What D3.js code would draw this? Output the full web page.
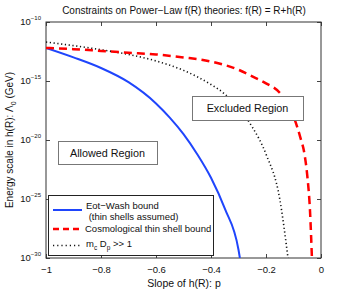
<!DOCTYPE html>
<html><head><meta charset="utf-8">
<script src="https://cdn.jsdelivr.net/npm/d3@7"></script>
<style>body{margin:0;background:#fff}svg{display:block;font-family:"Liberation Sans",Arial,sans-serif}</style>
</head><body><svg id="c" width="354" height="291"></svg>
<script>
// Data: slope p and log10 of energy scale (GeV)
const eotP   = [-1, -0.9, -0.8, -0.7, -0.6, -0.55, -0.5, -0.45, -0.4, -0.35, -0.3, -0.295];
const eotLog = [-12.2, -13.0, -13.9, -15.1, -16.9, -18.1, -19.5, -21.2, -23.2, -25.8, -29.3, -30];
const cosP   = [-1, -0.9, -0.8, -0.7, -0.6, -0.5, -0.4, -0.3, -0.25, -0.2, -0.15, -0.1, -0.075, -0.06, -0.05, -0.04, -0.033];
const cosLog = [-12.2, -12.3, -12.45, -12.6, -12.75, -13.0, -13.35, -14.05, -14.6, -15.2, -16.0, -18.0, -19.8, -21.2, -23.0, -26.0, -30];
const dotP   = [-1, -0.9, -0.8, -0.7, -0.6, -0.5, -0.4, -0.35, -0.3, -0.25, -0.2, -0.15, -0.12];
const dotLog = [-11.7, -12.0, -12.35, -12.75, -13.3, -14.1, -15.3, -16.1, -17.3, -18.9, -21.2, -25.0, -30];
const xTicks = [-1, -0.8, -0.6, -0.4, -0.2, 0];
const xTickLabels = ["\u22121", "\u22120.8", "\u22120.6", "\u22120.4", "\u22120.2", "0"];
const yTickExp = [-10, -15, -20, -25, -30];
const yTickLabels = ["\u221210", "\u221215", "\u221220", "\u221225", "\u221230"];

const svg = d3.select("#c");
const L = 46, R = 321, T = 22, B = 258;
const x = d3.scaleLinear().domain([-1, 0]).range([L, R]);
const y = d3.scaleLog().domain([1e-30, 1e-10]).range([B, T]);

svg.append("defs").append("clipPath").attr("id","clip")
  .append("rect").attr("x",L).attr("y",T).attr("width",R-L).attr("height",B-T);

// title
svg.append("text").attr("x",184).attr("y",14).attr("text-anchor","middle")
  .attr("font-size",10).attr("fill","#111")
  .text("Constraints on Power\u2212Law f(R) theories: f(R) = R+h(R)");

// axes
const gx = svg.append("g").attr("transform",`translate(0,${B})`)
  .call(d3.axisBottom(x).tickValues(xTicks).tickSizeInner(-4).tickSizeOuter(0).tickPadding(6)
    .tickFormat((d,i)=>xTickLabels[i]));
const gxt = svg.append("g").attr("transform",`translate(0,${T})`)
  .call(d3.axisTop(x).tickValues(xTicks).tickSizeInner(-4).tickSizeOuter(0).tickFormat(""));
const yv = yTickExp.map(e=>Math.pow(10,e));
const gy = svg.append("g").attr("transform",`translate(${L},0)`)
  .call(d3.axisLeft(y).tickValues(yv).tickSizeInner(-4).tickSizeOuter(0).tickFormat(""));
const gyr = svg.append("g").attr("transform",`translate(${R},0)`)
  .call(d3.axisRight(y).tickValues(yv).tickSizeInner(-4).tickSizeOuter(0).tickFormat(""));
[gx,gxt,gy,gyr].forEach(g=>{
  g.select(".domain").remove();
  g.selectAll(".tick line").attr("stroke","#444");
  g.selectAll("text").attr("font-size",9.5).attr("fill","#111").attr("font-family","Liberation Sans, Arial, sans-serif");
});
gx.selectAll("text").attr("dy","0.9em");
svg.append("rect").attr("x",L).attr("y",T).attr("width",R-L).attr("height",B-T)
  .attr("fill","none").attr("stroke","#333").attr("stroke-width",1);

// y tick labels with superscript
yv.forEach((v,i)=>{
  const t = svg.append("text").attr("x",41).attr("y",y(v)+3).attr("text-anchor","end")
    .attr("font-size",9.5).attr("fill","#111");
  t.append("tspan").text("10");
  t.append("tspan").attr("dy",-5).attr("font-size",6).text(yTickLabels[i]);
});

// labels
svg.append("text").attr("x",184).attr("y",287).attr("text-anchor","middle")
  .attr("font-size",10.5).attr("fill","#111").text("Slope of h(R): p");
const yl = svg.append("text").attr("transform",`translate(13,${(T+B)/2}) rotate(-90)`)
  .attr("text-anchor","middle").attr("font-size",10).attr("fill","#111");
yl.append("tspan").text("Energy scale in h(R): \u039B");
yl.append("tspan").attr("dy",3).attr("font-size",7).text("0");
yl.append("tspan").attr("dy",-3).text(" (GeV)");

// lines
const line = d3.line().x(d=>x(d[0])).y(d=>y(Math.pow(10,d[1]))).curve(d3.curveMonotoneX);
const plot = svg.append("g").attr("clip-path","url(#clip)");
plot.append("path").datum(dotP.map((p,i)=>[p,dotLog[i]])).attr("d",line)
  .attr("fill","none").attr("stroke","#111").attr("stroke-width",1.6).attr("stroke-dasharray","1.2,2.6");
plot.append("path").datum(eotP.map((p,i)=>[p,eotLog[i]])).attr("d",line)
  .attr("fill","none").attr("stroke","#1f45fc").attr("stroke-width",2);
plot.append("path").datum(cosP.map((p,i)=>[p,cosLog[i]])).attr("d",line)
  .attr("fill","none").attr("stroke","#ff0000").attr("stroke-width",2.5).attr("stroke-dasharray","8,5");

// region boxes
function box(x0,y0,w,h,label){
  svg.append("rect").attr("x",x0+0.5).attr("y",y0+0.5).attr("width",w).attr("height",h)
    .attr("fill","#fff").attr("stroke","#777").attr("stroke-width",1);
  svg.append("text").attr("x",x0+w/2).attr("y",y0+h/2+4).attr("text-anchor","middle")
    .attr("font-size",10.8).attr("fill","#111").text(label);
}
box(58,141,99,23,"Allowed Region");
box(192,96,111,24,"Excluded Region");

// legend
const lg = svg.append("g");
lg.append("rect").attr("x",48.5).attr("y",195.5).attr("width",165).attr("height",60)
  .attr("fill","#fff").attr("stroke","#222").attr("stroke-width",1);
lg.append("line").attr("x1",53).attr("x2",82).attr("y1",210).attr("y2",210)
  .attr("stroke","#1f45fc").attr("stroke-width",2);
lg.append("line").attr("x1",53).attr("x2",82).attr("y1",229).attr("y2",229)
  .attr("stroke","#ff0000").attr("stroke-width",2.5).attr("stroke-dasharray","6,4");
lg.append("line").attr("x1",53).attr("x2",82).attr("y1",245.5).attr("y2",245.5)
  .attr("stroke","#111").attr("stroke-width",1.4).attr("stroke-dasharray","1.2,3");
const fs = 9.5;
lg.append("text").attr("x",86).attr("y",209).attr("font-size",fs).attr("fill","#111").text("Eot\u2212Wash bound");
lg.append("text").attr("x",86).attr("y",220).attr("font-size",fs).attr("fill","#111").attr("xml:space","preserve").text(" (thin shells assumed)");
lg.append("text").attr("x",85).attr("y",232).attr("font-size",fs).attr("fill","#111").text("Cosmological thin shell bound");
const mt = lg.append("text").attr("x",86).attr("y",247).attr("font-size",fs).attr("fill","#111");
mt.append("tspan").text("m");
mt.append("tspan").attr("dy",3).attr("font-size",6.5).text("c");
mt.append("tspan").attr("dy",-3).text(" D");
mt.append("tspan").attr("dy",3).attr("font-size",6.5).text("p");
mt.append("tspan").attr("dy",-3).text(" >> 1");
</script></body></html>
